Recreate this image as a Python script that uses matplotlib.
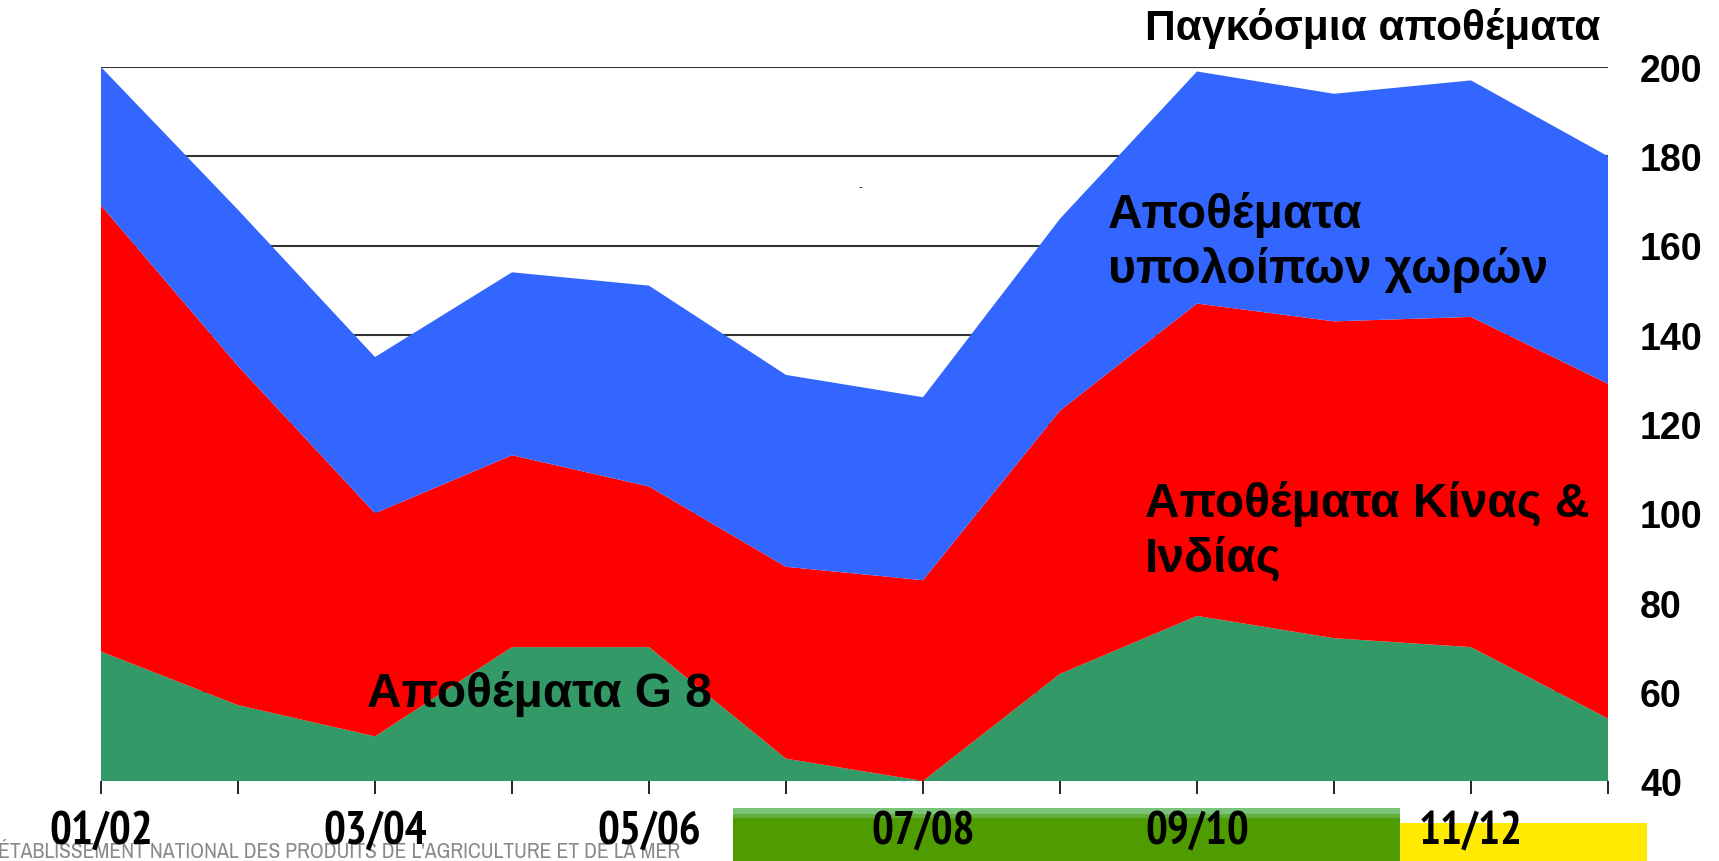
import matplotlib
matplotlib.use("Agg")
from matplotlib import pyplot as plt
from matplotlib.patches import Rectangle
from matplotlib import font_manager

plt.rcParams['font.family'] = ['Liberation Sans', 'DejaVu Sans']

seasons = ["01/02", "02/03", "03/04", "04/05", "05/06", "06/07",
           "07/08", "08/09", "09/10", "10/11", "11/12", "12/13"]
# stock layers (stacked)
g8 = [69, 57, 50, 70, 70, 45, 40, 64, 77, 72, 70, 54]
china_india = [100, 76, 50, 43, 36, 43, 45, 59, 70, 71, 74, 75]
others = [31, 35, 35, 41, 45, 43, 41, 43, 52, 51, 53, 51]
yticks = [40, 60, 80, 100, 120, 140, 160, 180, 200]

# look for a narrow sans font (with a bold face), the labels in the picture are condensed
fonts = font_manager.fontManager.ttflist
def weight(f):
    w = f.weight
    if isinstance(w, str):
        w = {"bold": 700, "normal": 400, "regular": 400}.get(w, 400)
    return w

cond = [f for f in fonts if ("Narrow" in f.name or "Condensed" in f.name)]
bold_cond = [f for f in cond if weight(f) >= 700]
if bold_cond:
    bold_cond.sort(key=lambda f: ("Narrow" not in f.name, abs(weight(f) - 700)))
    lab_font = dict(family=[bold_cond[0].name, "DejaVu Sans"], fontweight=weight(bold_cond[0]))
    lab_size = 33
else:
    lab_font = dict(family=["Liberation Sans", "DejaVu Sans"], fontweight="bold")
    lab_size = 29
reg_cond = [f for f in cond if 350 <= weight(f) <= 450]
if reg_cond:
    reg_cond.sort(key=lambda f: "Narrow" not in f.name)
    foot_font = dict(family=[reg_cond[0].name, "DejaVu Sans"], fontweight="normal")
    foot_size = 15.6
else:
    foot_font = dict(family=["Liberation Sans", "DejaVu Sans"])
    foot_size = 12.8

W, H = 1719, 862
fig = plt.figure(figsize=(W / 100, H / 100), dpi=100)
ax = fig.add_axes([101 / W, 1 - 782 / H, (1608 - 101) / W, (782 - 68) / H])

x = list(range(len(seasons)))
ax.stackplot(x, g8, china_india, others,
             colors=["#339966", "#ff0000", "#3366ff"], linewidth=0)

ax.set_xlim(0, len(seasons) - 1)
ax.set_ylim(40, 200)
ax.set_axisbelow(True)
ax.yaxis.grid(True, color="#333333", linewidth=1.5)
for s in ax.spines.values():
    s.set_visible(False)

ax.set_xticks(x)
ax.set_xticklabels([s if i % 2 == 0 else "" for i, s in enumerate(seasons)],
                   fontsize=lab_size, **lab_font)
ax.tick_params(axis="x", direction="out", length=9.5, width=1.2, color="black", pad=12)

ax.yaxis.tick_right()
ax.set_yticks(yticks)
ax.set_yticklabels([str(v) for v in yticks], fontweight="bold", fontsize=27)
ax.tick_params(axis="y", length=0, pad=23)

fig.text(1600 / W, 1 - 40 / H, "Παγκόσμια αποθέματα", ha="right", va="baseline",
         fontsize=30.6, fontweight="bold")

big = dict(fontsize=34.5, fontweight="bold", va="baseline")
ax.text(7.35, 164.1, "Αποθέματα", **big)
ax.text(7.35, 151.8, "υπολοίπων χωρών", **big)
ax.text(7.62, 99.4, "Αποθέματα Κίνας &", **big)
ax.text(7.62, 87.1, "Ινδίας", **big)
ax.text(1.94, 56.8, "Αποθέματα G 8", **big)
ax.text(5.54, 173.3, "-", fontsize=8, ha="center", va="center")

# footer band
def frect(x0, y0, x1, y1, color):
    fig.add_artist(Rectangle((x0 / W, 1 - y1 / H), (x1 - x0) / W, (y1 - y0) / H,
                             transform=fig.transFigure, color=color, lw=0, zorder=-1))

frect(733, 809, 1400, 862, "#4f9c00")
frect(733, 809, 1400, 815, "#7cc47c")
frect(733, 815, 1400, 819, "#62ae3c")
frect(1400, 824, 1647, 862, "#ffea00")

fig.text(-2 / W, 4 / H, "ÉTABLISSEMENT NATIONAL DES PRODUITS DE L'AGRICULTURE ET DE LA MER",
         fontsize=foot_size, color="#8a8a8a", va="baseline", ha="left", zorder=-1,
         **foot_font)

fig.savefig("out.png", dpi=100)
